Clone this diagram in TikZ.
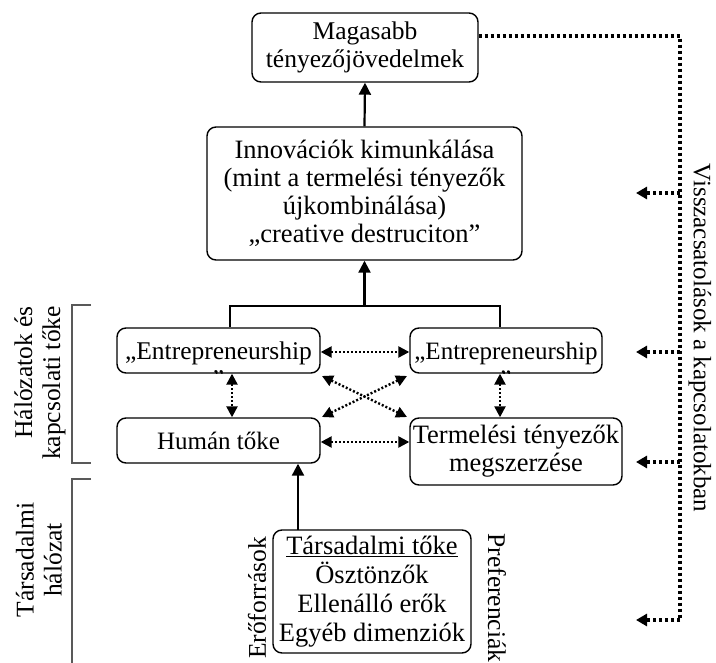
\documentclass[tikz,border=0pt]{standalone}
\usepackage{fontspec}
\setmainfont{Liberation Serif}
\usetikzlibrary{arrows.meta}
\begin{document}
\begin{tikzpicture}[x=1pt,y=-1pt,
  font=\fontsize{25.5}{28}\selectfont,
  box/.style={draw, rounded corners=9pt, line width=1.4pt, align=center, inner sep=0pt},
  solidarrow/.style={line width=2.2pt, -{Triangle[length=12pt,width=12pt]}},
  dotarrow/.style={line width=2.4pt, dash pattern=on 2pt off 2pt, {Triangle[length=11pt,width=11pt]}-{Triangle[length=11pt,width=11pt]}},
  fbline/.style={line width=3.2pt, dash pattern=on 3pt off 3pt},
  fbarrow/.style={line width=3.2pt, dash pattern=on 3pt off 3pt, -{Triangle[length=11pt,width=12pt]}},
  bracketline/.style={line width=1.3pt, draw=black!65},
  plain/.style={inner sep=0pt, align=center}]
\useasboundingbox (0,0) rectangle (716,663);

% boxes
\node[box, minimum width=226pt, minimum height=69pt] (top) at (365,47.5) {Magasabb\\tényezőjövedelmek};
\node[box, minimum width=315pt, minimum height=133pt, font=\fontsize{26.5}{27.8}\selectfont] (innov) at (364.5,193.5)
  {Innovációk kimunkálása\\(mint a termelési tényezők\\újkombinálása)\\„creative destruciton”};
\node[box, minimum width=203pt, minimum height=45pt] (entL) at (218.5,350.5) {};
\node[box, minimum width=192pt, minimum height=45pt] (entR) at (506,350.5) {};
\node[box, minimum width=203pt, minimum height=45pt, font=\fontsize{25}{28}\selectfont] (human) at (218.5,440.5) {Humán tőke};
\node[box, minimum width=212pt, minimum height=67pt, font=\fontsize{26.5}{28}\selectfont] (term) at (516,451.5) {Termelési tényezők\\megszerzése};
\node[box, minimum width=198pt, minimum height=123pt, font=\fontsize{26.5}{29}\selectfont] (social) at (372,591.5)
  {\underline{Társadalmi tőke}\\Ösztönzők\\Ellenálló erők\\Egyéb dimenziók};

% clipped entrepreneurship texts
\begin{scope}
  \clip (entL.south west) rectangle (entL.north east);
  \node[plain] (entLtext) at (218.5,365) {„Entrepreneurship\\”};
\end{scope}
\begin{scope}
  \clip (entR.south west) rectangle (entR.north east);
  \node[plain, font=\fontsize{25}{28}\selectfont] (entRtext) at (506,365) {„Entrepreneurship\\”};
\end{scope}

% solid connectors
\draw[solidarrow] (innov.north) -- (top.south);
\coordinate (brL) at (230,306);
\coordinate (brR) at (500,306);
\coordinate (brM) at (364.5,306);
\draw[line width=1.4pt] (entL.north -| brL) -- (brL) -- (brR) -- (entR.north -| brR);
\draw[solidarrow] (brM) -- (innov.south);
\coordinate (socT) at (298,530);
\draw[solidarrow] (socT) -- (human.south -| socT);

% dotted double arrows
\draw[dotarrow] (entL.east |- 0,352) -- (entR.west |- 0,352);
\draw[dotarrow] (human.east |- 0,442) -- (term.west |- 0,442);
\coordinate (vL) at (232,0);
\coordinate (vR) at (500,0);
\draw[dotarrow] (entL.south -| vL) -- (human.north -| vL);
\draw[dotarrow] (entR.south -| vR) -- (term.north -| vR);
\coordinate (c1) at (322,376);
\coordinate (c2) at (407,417);
\coordinate (c3) at (407,376);
\coordinate (c4) at (322,417);
\draw[dotarrow] (c1) -- (c2);
\draw[dotarrow] (c3) -- (c4);

% feedback loop
\coordinate (fTop) at (680,36);
\coordinate (fBot) at (680,620);
\draw[fbline] (top.east |- fTop) -- (fTop) -- (fBot);
\coordinate (f1) at (680,193);
\coordinate (f2) at (680,352);
\coordinate (f3) at (680,462);
\coordinate (t1) at (636,193);
\coordinate (t2) at (636,352);
\coordinate (t3) at (636,462);
\coordinate (t4) at (636,620);
\draw[fbarrow] (f1) -- (t1);
\draw[fbarrow] (f2) -- (t2);
\draw[fbarrow] (f3) -- (t3);
\draw[fbarrow] (fBot) -- (t4);

% rotated labels
\node[plain, rotate=-90, font=\fontsize{25}{28}\selectfont] (vissza) at (700,338) {Visszacsatolások a kapcsolatokban};
\node[plain, rotate=-90] (pref) at (497,598) {Preferenciák};
\node[plain, rotate=90] (ero) at (257,598) {Erőforrások};
\node[plain, rotate=90, align=right] (halo) at (40,383) {Hálózatok és\\kapcsolati tőke};
\node[plain, rotate=90] (tars) at (39,560) {Társadalmi\\hálózat};

% left brackets
\draw[bracketline] (91,305) -- (72,305) -- (72,463) -- (91,463);
\draw[bracketline] (91,479) -- (72,479) -- (72,663);
\end{tikzpicture}
\end{document}
